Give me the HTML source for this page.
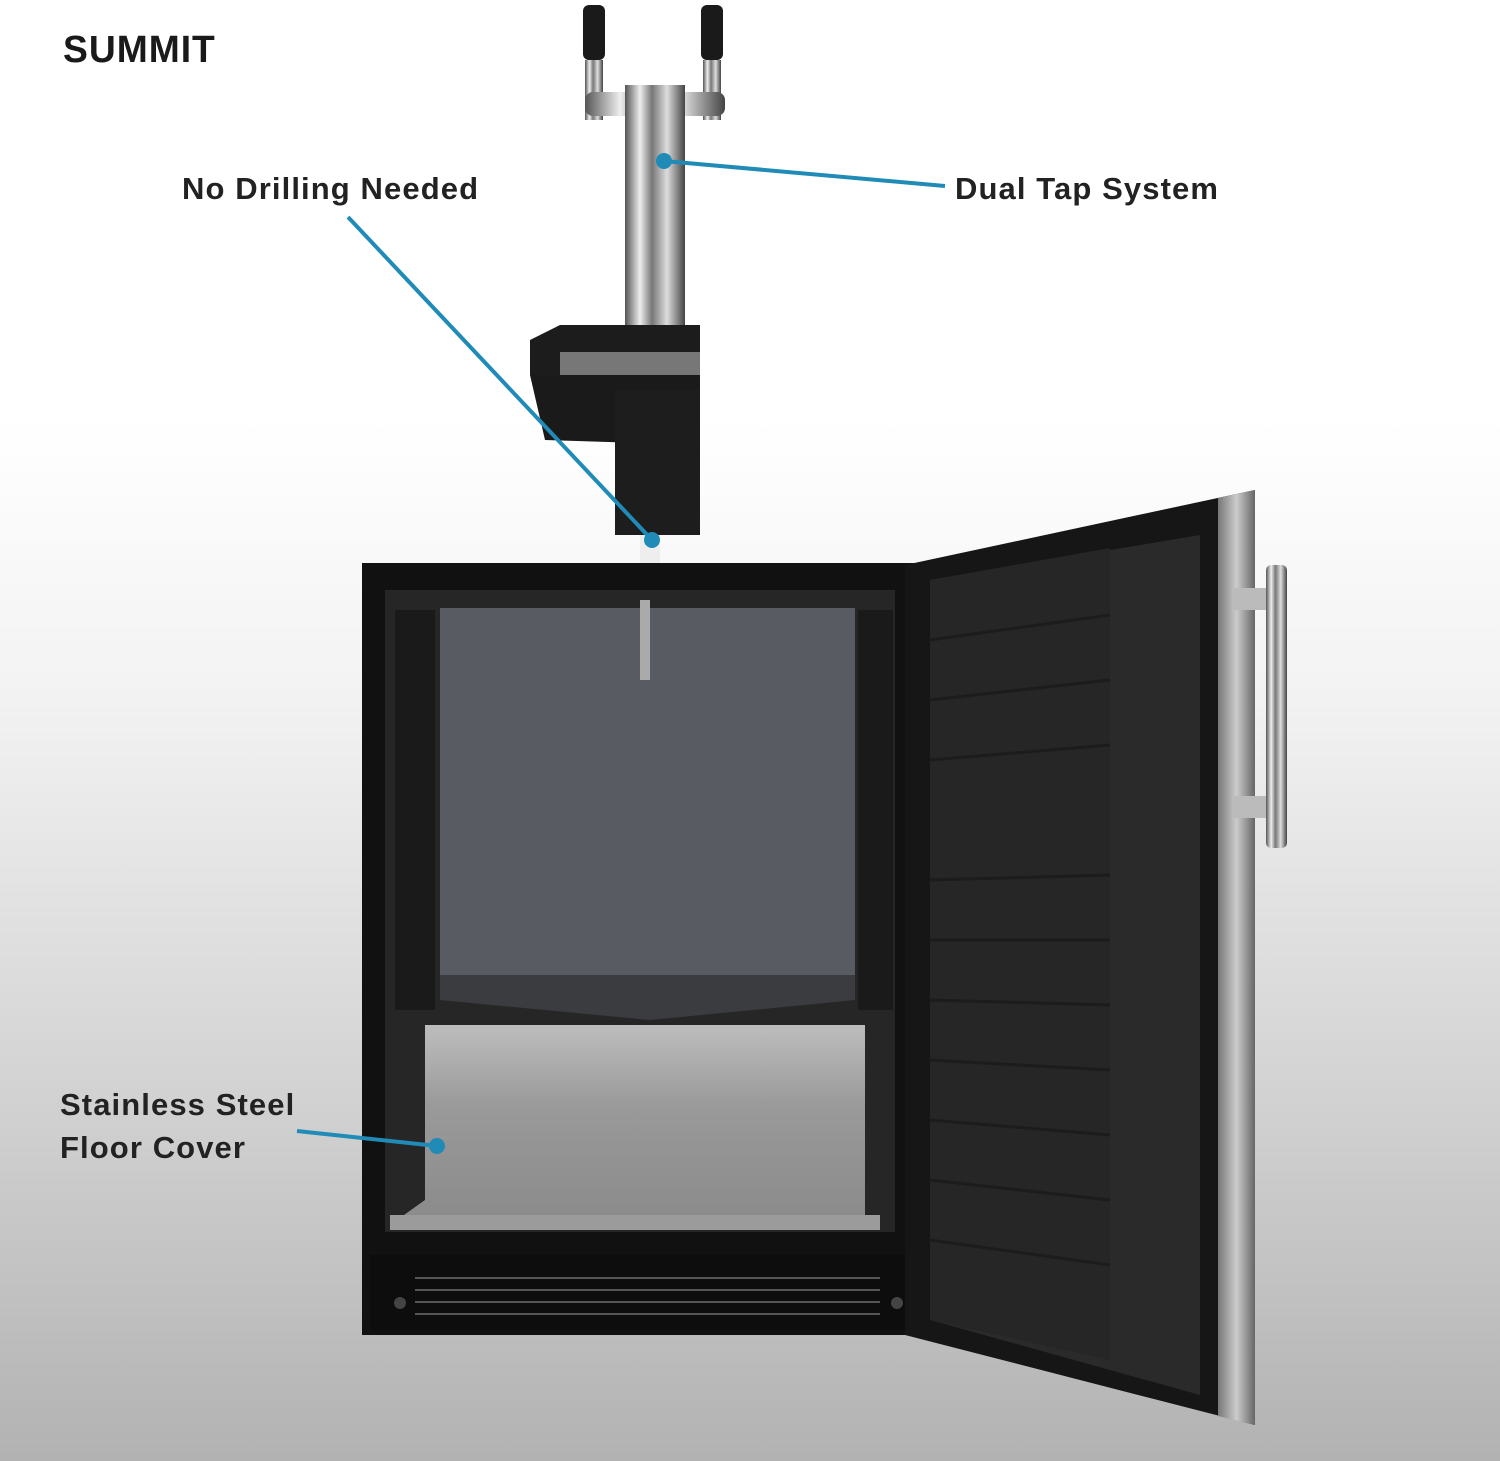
<!DOCTYPE html>
<html><head><meta charset="utf-8"><style>
html,body{margin:0;padding:0}
body{width:1500px;height:1461px;position:relative;overflow:hidden;
background:linear-gradient(to bottom,#ffffff 0px,#ffffff 420px,#f2f2f2 700px,#d6d6d6 1050px,#b2b2b2 1461px);
font-family:"Liberation Sans",sans-serif}
.lbl{position:absolute;font-weight:bold;font-size:31px;color:#222;letter-spacing:1.1px;line-height:43px}
</style></head><body>
<svg width="1500" height="1461" style="position:absolute;left:0;top:0">
<defs>
<linearGradient id="chrome" x1="0" x2="1" y1="0" y2="0">
<stop offset="0" stop-color="#555"/><stop offset="0.25" stop-color="#eee"/><stop offset="0.45" stop-color="#777"/><stop offset="0.7" stop-color="#ddd"/><stop offset="1" stop-color="#444"/></linearGradient>
<linearGradient id="ss" x1="0" x2="1"><stop offset="0" stop-color="#777"/><stop offset="0.5" stop-color="#ccc"/><stop offset="1" stop-color="#666"/></linearGradient>
<linearGradient id="floor" x1="0" x2="0" y1="0" y2="1"><stop offset="0" stop-color="#bdbdbd"/><stop offset="0.4" stop-color="#9a9a9a"/><stop offset="1" stop-color="#8a8a8a"/></linearGradient>
</defs>
<rect x="583" y="5" width="22" height="55" rx="6" fill="#1a1a1a"/>
<rect x="701" y="5" width="22" height="55" rx="6" fill="#1a1a1a"/>
<rect x="585" y="60" width="18" height="60" fill="url(#chrome)"/>
<rect x="703" y="60" width="18" height="60" fill="url(#chrome)"/>
<rect x="585" y="92" width="140" height="24" rx="8" fill="url(#chrome)"/>
<rect x="625" y="85" width="60" height="270" fill="url(#chrome)"/>
<polygon points="530,340 560,325 700,325 700,390 530,375" fill="#1c1c1c"/>
<rect x="560" y="352" width="140" height="24" fill="#777"/>
<polygon points="530,375 700,375 700,445 545,440" fill="#1a1a1a"/>
<rect x="615" y="390" width="85" height="145" fill="#1d1d1d"/>
<rect x="640" y="535" width="20" height="30" fill="#eee"/>
<rect x="362" y="563" width="570" height="772" fill="#111"/>
<rect x="385" y="590" width="510" height="642" fill="#262626"/>
<rect x="440" y="608" width="415" height="367" fill="#585b61"/>
<polygon points="440,975 855,975 855,1000 650,1020 440,1000" fill="#3a3c40"/>
<rect x="395" y="610" width="40" height="400" fill="#1a1a1a"/>
<rect x="858" y="610" width="35" height="400" fill="#1a1a1a"/>
<rect x="640" y="600" width="10" height="80" fill="#aaa"/>
<polygon points="425,1025 865,1025 865,1215 390,1225 425,1200" fill="url(#floor)"/>
<rect x="390" y="1215" width="490" height="15" fill="#9b9b9b"/>
<rect x="370" y="1255" width="545" height="75" fill="#0d0d0d"/>
<g stroke="#555" stroke-width="2">
<line x1="415" y1="1278" x2="880" y2="1278"/><line x1="415" y1="1290" x2="880" y2="1290"/><line x1="415" y1="1302" x2="880" y2="1302"/><line x1="415" y1="1314" x2="880" y2="1314"/>
</g>
<circle cx="400" cy="1303" r="6" fill="#444"/><circle cx="897" cy="1303" r="6" fill="#444"/>
<polygon points="905,565 1255,490 1255,1425 905,1335" fill="#161616"/>
<polygon points="1218,498 1255,490 1255,1425 1218,1416" fill="url(#ss)"/>
<polygon points="930,580 1200,535 1200,1395 930,1320" fill="#2a2a2a"/>
<polygon points="930,580 1110,548 1110,1360 930,1320" fill="#262626"/>
<g stroke="#1c1c1c" stroke-width="3">
<line x1="930" y1="640" x2="1110" y2="615"/><line x1="930" y1="700" x2="1110" y2="680"/><line x1="930" y1="760" x2="1110" y2="745"/>
<line x1="930" y1="880" x2="1110" y2="875"/><line x1="930" y1="940" x2="1110" y2="940"/><line x1="930" y1="1000" x2="1110" y2="1005"/>
<line x1="930" y1="1060" x2="1110" y2="1070"/><line x1="930" y1="1120" x2="1110" y2="1135"/><line x1="930" y1="1180" x2="1110" y2="1200"/><line x1="930" y1="1240" x2="1110" y2="1265"/>
</g>
<rect x="1232" y="588" width="48" height="22" rx="4" fill="#bbb"/>
<rect x="1232" y="796" width="48" height="22" rx="4" fill="#bbb"/>
<rect x="1266" y="565" width="21" height="283" rx="5" fill="url(#chrome)"/>
<g stroke="#1f8bb6" stroke-width="4" fill="#1f8bb6">
<line x1="348" y1="217" x2="652" y2="540"/><circle cx="652" cy="540" r="6"/>
<line x1="945" y1="186" x2="664" y2="161"/><circle cx="664" cy="161" r="6"/>
<line x1="297" y1="1131" x2="437" y2="1146"/><circle cx="437" cy="1146" r="6"/>
</g>
</svg>
<div style="position:absolute;left:63px;top:30px;font-weight:900;font-size:38px;letter-spacing:1px;transform:scaleX(0.98);transform-origin:left;color:#1a1a1a;line-height:40px">SUMMIT</div>
<div class="lbl" style="left:182px;top:167px">No Drilling Needed</div>
<div class="lbl" style="left:955px;top:167px">Dual Tap System</div>
<div class="lbl" style="left:60px;top:1083px">Stainless Steel<br>Floor Cover</div>
</body></html>
